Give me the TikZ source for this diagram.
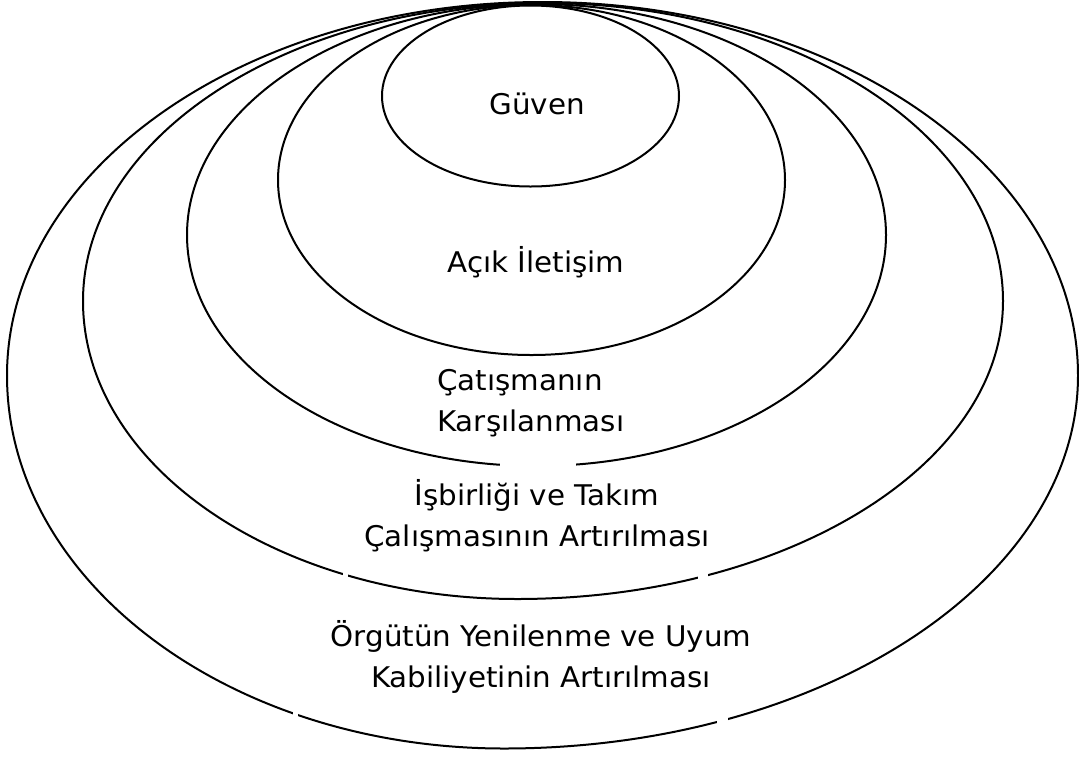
\documentclass[tikz,border=0pt]{standalone}
\usepackage{fontspec}
\setmainfont[FakeStretch=1.03]{DejaVu Sans}
\begin{document}
\begin{tikzpicture}[x=1pt,y=-1pt,
  ring/.style={draw=black,line width=2pt},
  lbl/.style={font=\fontsize{28.5}{41}\selectfont,align=center,inner sep=0pt},
  gap/.style={fill=white,draw=none}]
\useasboundingbox (0,0) rectangle (1079,756);
% outermost ring (lower half slightly shifted to the left)
\draw[ring] (7,375.5) arc[start angle=180, end angle=0, x radius=535.5pt, y radius=373.5pt]
  arc[start angle=0, end angle=-90, x radius=574pt, y radius=373pt]
  arc[start angle=270, end angle=180, x radius=497pt, y radius=373pt] -- cycle;
% fourth ring
\draw[ring] (83,301) arc[start angle=180, end angle=0, x radius=460pt, y radius=298pt]
  arc[start angle=0, end angle=-90, x radius=486pt, y radius=298pt]
  arc[start angle=270, end angle=180, x radius=434pt, y radius=298pt] -- cycle;
% inner rings
\draw[ring] (536.5,235) ellipse [x radius=349.5pt, y radius=231pt];
\draw[ring] (531.5,180) ellipse [x radius=253.5pt, y radius=175pt];
\draw[ring] (530.5,96) ellipse [x radius=148.5pt, y radius=90.5pt];
% small breaks in the lower arcs
\fill[gap] (500,456) rectangle (576,474);
\fill[gap] (343,564) rectangle (348,586);
\fill[gap] (698,564) rectangle (708,588);
\fill[gap] (293,698) rectangle (298,730);
\fill[gap] (717,698) rectangle (728,735);
% labels
\node[lbl] (guven) at (537,104) {Güven};
\node[lbl] (acik) at (536,262) {Açık İletişim};
\node[lbl,align=left,anchor=west] (catisma) at (437,403) {Çatışmanın\\ Karşılanması};
\node[lbl] (isbirligi) at (537,516) {İşbirliği ve Takım\\Çalışmasının Artırılması};
\node[lbl] (orgut) at (541,657) {Örgütün Yenilenme ve Uyum\\Kabiliyetinin Artırılması};
\end{tikzpicture}
\end{document}
